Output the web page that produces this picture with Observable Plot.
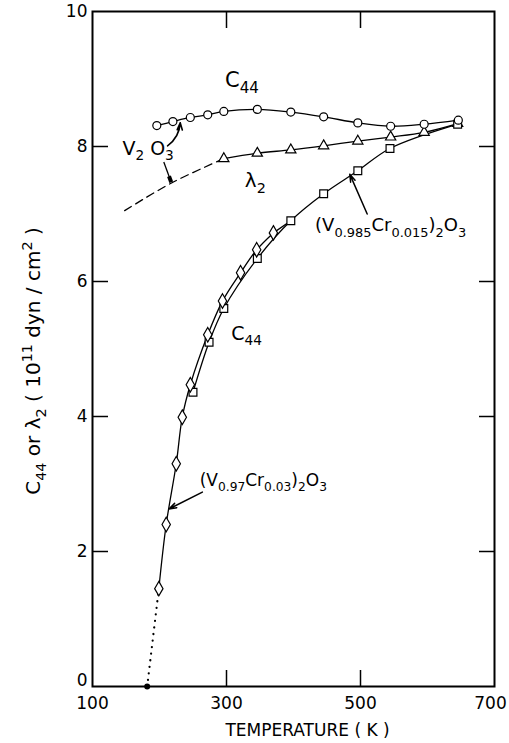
<!DOCTYPE html>
<html><head><meta charset="utf-8">
<script src="https://cdn.jsdelivr.net/npm/d3@7"></script>
<script src="https://cdn.jsdelivr.net/npm/@observablehq/plot@0.6"></script>
<style>body{margin:0;background:#fff}</style>
</head><body><div id="chart"></div>
<script>
// ---- axis ticks ----
const xTicks = [100, 300, 500];
const xTickLast = [700];
const yTicks = [2, 4, 6, 8, 10];
const yTickZero = [0];
const innerXTicks = [300, 500];
const innerYTicks = [2, 4, 6, 8];

// ---- V2O3 C44 (circles) ----
const v2o3T   = [196, 220, 246, 272, 296, 346, 396, 445, 496, 545, 595, 646];
const v2o3C44 = [8.31, 8.37, 8.43, 8.47, 8.52, 8.55, 8.51, 8.44, 8.35, 8.30, 8.33, 8.39];

// ---- V2O3 lambda2 (triangles) + dashed extrapolation ----
const lambdaT = [296, 346, 396, 445, 496, 545, 595, 645];
const lambdaV = [7.82, 7.90, 7.95, 8.01, 8.08, 8.14, 8.21, 8.34];
const lambdaDashT = [148, 218, 296];
const lambdaDashV = [7.05, 7.46, 7.82];

// ---- (V0.985Cr0.015)2O3 C44 (squares) ----
const cr015T   = [250, 274, 296, 346, 396, 445, 496, 544, 645];
const cr015C44 = [4.36, 5.10, 5.60, 6.34, 6.90, 7.30, 7.64, 7.97, 8.33];

// ---- (V0.97Cr0.03)2O3 C44 (diamonds) + dotted extrapolation ----
const cr03T   = [199, 210, 225, 234, 246, 272, 294, 321, 345, 370];
const cr03C44 = [1.45, 2.40, 3.30, 3.99, 4.47, 5.21, 5.71, 6.13, 6.47, 6.72];
const cr03JoinT = [370, 396];
const cr03JoinV = [6.72, 6.90];
const cr03DotT = [181.6, 199];
const cr03DotV = [0, 1.45];
const cr03ZeroT = [181.6];

// ---- annotations (data units) ----
const labelText = ["C_{44}", "V_{2} O_{3}", "λ_{2}", "(V_{0.985}Cr_{0.015})_{2}O_{3}", "C_{44}", "(V_{0.97}Cr_{0.03})_{2}O_{3}"];
const labelT = [323, 183, 343, 545, 330, 355];
const labelV = [8.98, 7.97, 7.50, 6.83, 5.23, 3.05];

const arrowFromT = [212, 510, 264];
const arrowFromV = [8.01, 7.00, 2.88];
const arrowToT   = [231, 484, 214];
const arrowToV   = [8.35, 7.59, 2.63];

const pointerT = [206.4, 217.5];
const pointerV = [7.77, 7.47];
const pointerFootT = [214.2, 217.5];
const pointerFootV = [7.56, 7.47];

const yLabel = "C_{44} or λ_{2} ( 10^{11} dyn / cm^{2} )";
const xLabel = "TEMPERATURE ( K )";

const rows = (ts, vs) => ts.map((t, i) => ({t, v: vs[i]}));
const circles = rows(v2o3T, v2o3C44);
const tris = rows(lambdaT, lambdaV);
const dash = rows(lambdaDashT, lambdaDashV);
const squares = rows(cr015T, cr015C44);
const diamonds = rows(cr03T, cr03C44);
const join = rows(cr03JoinT, cr03JoinV);
const dotted = rows(cr03DotT, cr03DotV);
const labels = labelText.map((s, i) => ({s, t: labelT[i], v: labelV[i]}));
const arrows = arrowFromT.map((t, i) => ({x1: t, y1: arrowFromV[i], x2: arrowToT[i], y2: arrowToV[i]}));

const lineOpts = {x: "t", y: "v", stroke: "black", strokeWidth: 1.3, curve: "catmull-rom"};
const dotOpts = {x: "t", y: "v", stroke: "black", strokeWidth: 1.2, fill: "white"};

const lab = (i, size) => Plot.text([labels[i]], {x: "t", y: "v", text: "s", fontSize: size, fill: "black"});
const tk = {fill: "none", label: null, tickSize: 16, strokeWidth: 1.5};

const chart = Plot.plot({
  width: 509, height: 743,
  marginLeft: 92, marginRight: 15, marginTop: 11, marginBottom: 57,
  x: {domain: [100, 700]},
  y: {domain: [0, 10]},
  style: {fontFamily: "DejaVu Sans", fontSize: "17px", color: "black", background: "white"},
  marks: [
    Plot.frame({stroke: "black", strokeWidth: 2}),
    Plot.axisX(xTicks, {anchor: "bottom", tickSize: 0, tickPadding: 10, label: null, fontSize: 17}),
    Plot.axisX(xTickLast, {anchor: "bottom", tickSize: 0, tickPadding: 10, label: null, fontSize: 17, dx: -4}),
    Plot.axisY(yTicks, {anchor: "left", tickSize: 0, tickPadding: 5, label: null, fontSize: 17, tickFormat: "d"}),
    Plot.axisY(yTickZero, {anchor: "left", tickSize: 0, tickPadding: 5, label: null, fontSize: 17, tickFormat: "d", dy: -6}),
    Plot.axisX(innerXTicks, {...tk, anchor: "bottom", dy: -16}),
    Plot.axisX(innerXTicks, {...tk, anchor: "top", dy: 16}),
    Plot.axisY(innerYTicks, {...tk, anchor: "left", dx: 16}),
    Plot.axisY(innerYTicks, {...tk, anchor: "right", dx: -16}),

    Plot.line(dash, {x: "t", y: "v", stroke: "black", strokeWidth: 1.3, strokeDasharray: "8,5", curve: "catmull-rom"}),
    Plot.line(dotted, {x: "t", y: "v", stroke: "black", strokeWidth: 2.2, strokeDasharray: "0.1,6.5", strokeLinecap: "round"}),
    Plot.dot(cr03ZeroT, {x: d => d, y: () => 0, r: 3, fill: "black"}),

    Plot.line(tris, lineOpts),
    Plot.line(squares, lineOpts),
    Plot.line(join, lineOpts),
    Plot.line(diamonds, lineOpts),
    Plot.line(circles, lineOpts),
    Plot.dot(tris, {...dotOpts, symbol: "triangle", r: 3.8}),
    Plot.dot(squares, {...dotOpts, symbol: "square", r: 4.4}),
    Plot.dot(diamonds, {...dotOpts, symbol: "diamond", r: 4.4}),
    Plot.dot(circles, {...dotOpts, symbol: "circle", r: 4}),

    Plot.arrow(arrows.slice(0, 1), {x1: "x1", y1: "y1", x2: "x2", y2: "y2", bend: -25, headLength: 7, headAngle: 40, strokeWidth: 1.6}),
    Plot.arrow(arrows.slice(1), {x1: "x1", y1: "y1", x2: "x2", y2: "y2", headLength: 8, headAngle: 35, strokeWidth: 1.5}),
    Plot.link([{x1: pointerT[0], y1: pointerV[0], x2: pointerT[1], y2: pointerV[1]}], {x1: "x1", y1: "y1", x2: "x2", y2: "y2", strokeWidth: 1.3}),
    Plot.link([{x1: pointerFootT[0], y1: pointerFootV[0], x2: pointerFootT[1], y2: pointerFootV[1]}], {x1: "x1", y1: "y1", x2: "x2", y2: "y2", strokeWidth: 4}),

    lab(0, 21), lab(1, 19), lab(2, 20), lab(3, 18), lab(4, 19), lab(5, 17),

    Plot.text([yLabel], {text: d => d, frameAnchor: "left", textAnchor: "middle", lineAnchor: "middle", rotate: -90, dx: -59, dy: 12, fontSize: 20}),
    Plot.text([xLabel], {text: d => d, frameAnchor: "bottom", textAnchor: "middle", lineAnchor: "middle", dx: 14, dy: 44, fontSize: 17})
  ]
});
document.getElementById("chart").appendChild(chart);

// subscripts / superscripts as real tspans
const NS = "http://www.w3.org/2000/svg";
chart.querySelectorAll("text").forEach(t => {
  const s = t.textContent;
  if (!/[_^]\{/.test(s)) return;
  const fs = parseFloat(getComputedStyle(t).fontSize);
  while (t.firstChild) t.removeChild(t.firstChild);
  let off = 0;
  const add = (str, shift, size) => {
    const ts = document.createElementNS(NS, "tspan");
    ts.textContent = str;
    const d = shift - off;
    if (d) ts.setAttribute("dy", d);
    off = shift;
    if (size) ts.setAttribute("font-size", size);
    t.appendChild(ts);
  };
  const re = /([_^])\{([^}]*)\}/g;
  let last = 0, m;
  while ((m = re.exec(s))) {
    if (m.index > last) add(s.slice(last, m.index), 0);
    add(m[2], m[1] === "_" ? 0.3 * fs : -0.42 * fs, (0.72 * fs) + "px");
    last = re.lastIndex;
  }
  if (last < s.length) add(s.slice(last), 0);
});
</script>
</body></html>
